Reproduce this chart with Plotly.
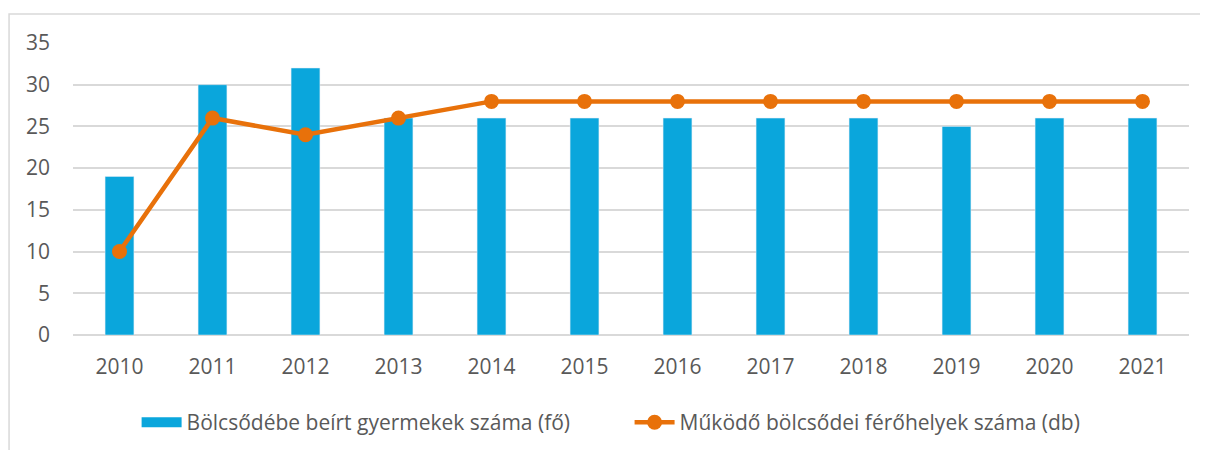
import plotly.graph_objects as go

# data
years = ["2010", "2011", "2012", "2013", "2014", "2015", "2016", "2017", "2018", "2019", "2020", "2021"]
beirt_gyermekek = [19, 30, 32, 26, 26, 26, 26, 26, 26, 25, 26, 26]
ferohelyek = [10, 26, 24, 26, 28, 28, 28, 28, 28, 28, 28, 28]

BLUE = "#0AA6DC"
ORANGE = "#E8710A"
GRID = "#D9D9D9"
TEXT = "#595959"

fig = go.Figure()

fig.add_trace(go.Bar(
    x=years, y=beirt_gyermekek,
    name="Bölcsődébe beírt gyermekek száma (fő)",
    marker_color=BLUE,
    showlegend=False,
))

# legend-only entry so the bar key is a wide block like in the source
# (trailing nbsp's widen the gap between the two legend entries)
fig.add_trace(go.Scatter(
    x=[None], y=[None],
    name="Bölcsődébe beírt gyermekek száma (fő)" + "\u00a0" * 10,
    mode="lines",
    line=dict(color=BLUE, width=14),
))

fig.add_trace(go.Scatter(
    x=years, y=ferohelyek,
    name="Működő bölcsődei férőhelyek száma (db)",
    mode="lines+markers",
    line=dict(color=ORANGE, width=4.5),
    marker=dict(color=ORANGE, size=15),
))

# outer chart frame (runs off the right and bottom edges like the source)
fig.add_shape(
    type="rect", xref="paper", yref="paper",
    x0=-0.0573, x1=1.05, y0=-0.5, y1=1.0993,
    line=dict(color=GRID, width=1.5),
    fillcolor="rgba(0,0,0,0)",
    layer="below",
)

fig.update_layout(
    width=1200, height=442,
    margin=dict(l=65, r=19, t=35, b=115, autoexpand=False),
    plot_bgcolor="white",
    paper_bgcolor="white",
    font=dict(family="Open Sans", size=21, color=TEXT),
    bargap=0.69,
    showlegend=True,
    legend=dict(
        orientation="h",
        x=0.057, xanchor="left",
        y=-0.30, yanchor="middle",
        font=dict(size=21, color=TEXT),
        itemwidth=40,
    ),
)

fig.update_xaxes(
    range=[-0.5, 11.5],
    showgrid=False,
    showline=False,
    ticks="",
    ticklabelstandoff=17,
)

fig.update_yaxes(
    range=[0, 35],
    dtick=5,
    showgrid=True,
    gridcolor=GRID,
    gridwidth=1.5,
    zeroline=True,
    zerolinecolor=GRID,
    zerolinewidth=2,
    showline=False,
    ticks="",
    ticklabelstandoff=22,
)

fig.write_html("out.html")
